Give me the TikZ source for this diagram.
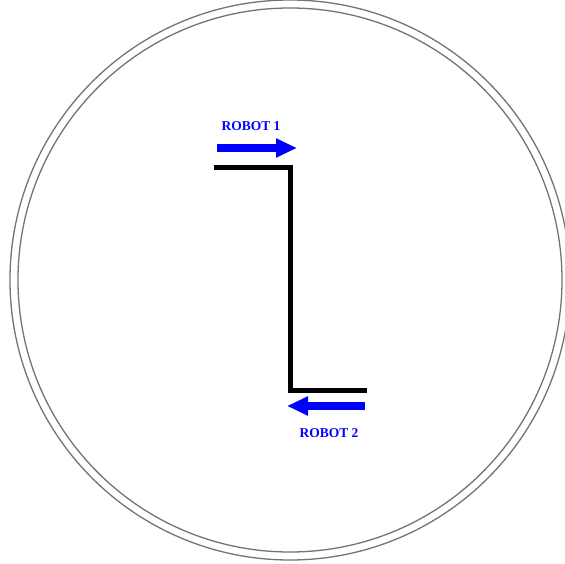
\documentclass[tikz,border=0pt]{standalone}
\usepackage{fontspec}
\setmainfont{Liberation Serif}
\usetikzlibrary{arrows.meta, positioning}

\begin{document}
\begin{tikzpicture}[
        x=1pt, y=-1pt,
        borde/.style={draw=black!55, line width=1.3pt},
        camino/.style={draw=black, line width=5pt, line join=miter},
        robot/.style={draw=blue, line width=7.5pt, -{Triangle[length=21pt, width=18pt]}},
        etiqueta/.style={text=blue, font=\bfseries\fontsize{13.5}{15}\selectfont, inner sep=1pt}
    ]
\useasboundingbox (0,0) rectangle (565,564);

% --- Arena ---
        \draw[borde] (290,280) circle[radius=280];
        \draw[borde] (290,280) circle[radius=272];

% --- Trayectoria ---
        \coordinate (ini) at (214,168);
        \coordinate (esq1) at (290,168);
        \coordinate (esq2) at (290,390);
        \coordinate (fin) at (367,390);
        \draw[camino] (ini) -- (esq1) -- (esq2) -- (fin);

% --- Robot 1 ---
        \coordinate (r1a) at (217,148);
        \coordinate (r1b) at (297,148);
        \draw[robot] (r1a) -- (r1b);
        \node[etiqueta] (rob1) at (251,126) {ROBOT 1};

% --- Robot 2 ---
        \coordinate (r2a) at (365,406);
        \coordinate (r2b) at (287,406);
        \draw[robot] (r2a) -- (r2b);
        \node[etiqueta] (rob2) at (329,433) {ROBOT 2};
    \end{tikzpicture}
\end{document}
